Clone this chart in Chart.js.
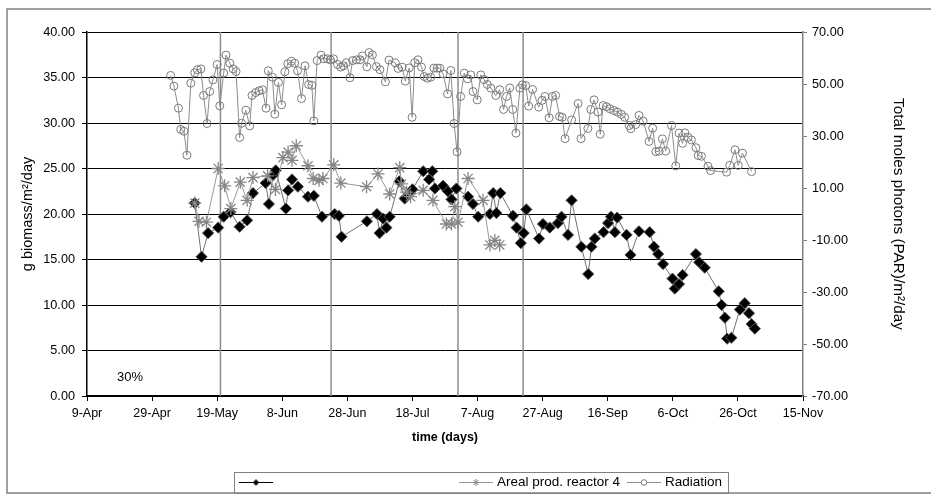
<!DOCTYPE html>
<html>
<head>
<meta charset="utf-8">
<script src="https://cdn.jsdelivr.net/npm/chart.js"></script>
<style>
  html, body { margin: 0; padding: 0; background: #fff; }
  #chart { display: block; }
</style>
</head>
<body>
<canvas id="chart" width="931" height="496"></canvas>
<script>
// x values are days counted from 9-Apr
const tickLabels = ['9-Apr', '29-Apr', '19-May', '8-Jun', '28-Jun', '18-Jul', '7-Aug', '27-Aug', '16-Sep', '6-Oct', '26-Oct', '15-Nov'];
const markerDays = [41, 75, 114, 134];

// black diamonds (legend label is empty in the original)
const blackDays = [33.1, 35.2, 37.2, 40.3, 42.0, 44.1, 46.9, 49.2, 51.0, 54.9, 55.9, 57.2, 58.0, 61.1, 61.8, 63.0, 64.8, 67.9, 69.7, 72.2,
  76.1, 77.4, 78.2, 86.0, 89.1, 89.9, 91.0, 92.0, 93.0, 96.0, 97.6, 99.2, 100.0, 103.3, 105.1, 106.1, 106.9, 109.4, 110.9, 112.0,
  113.5, 117.1, 118.6, 120.2, 123.8, 124.8, 125.8, 127.0, 130.9, 132.0, 133.3, 134.2, 135.0, 138.9, 140.1, 142.2, 144.7, 145.8, 147.8, 148.9,
  151.9, 154.0, 155.0, 156.0, 158.7, 160.1, 161.0, 162.2, 162.9, 165.8, 167.0, 169.6, 172.9, 174.2, 175.5, 177.0, 179.9, 180.6, 181.9, 183.0,
  187.1, 188.1, 189.8, 194.1, 195.0, 196.0, 196.7, 198.0, 200.6, 202.1, 203.4, 204.2, 205.2];
const blackValues = [21.2, 15.3, 17.9, 18.5, 19.7, 20.2, 18.6, 19.3, 22.3, 23.4, 21.1, 24.3, 24.8, 20.6, 22.6, 23.8, 23.0, 21.9, 22.0, 19.7,
  20.0, 19.8, 17.5, 19.2, 20.0, 17.9, 19.5, 18.5, 19.7, 23.6, 21.7, 22.3, 22.7, 24.7, 23.8, 24.7, 22.8, 23.1, 22.5, 21.6,
  22.8, 21.9, 21.1, 19.7, 20.0, 22.3, 20.1, 22.3, 19.8, 18.5, 16.8, 17.9, 20.5, 17.3, 18.9, 18.5, 19.0, 19.7, 17.7, 21.5,
  16.4, 13.4, 16.4, 17.3, 18.0, 19.0, 19.7, 18.0, 19.6, 17.7, 15.5, 18.1, 18.0, 16.4, 15.6, 14.5, 12.9, 11.8, 12.3, 13.3,
  15.6, 14.7, 14.1, 11.5, 10.0, 8.6, 6.3, 6.4, 9.5, 10.2, 9.1, 7.9, 7.4];

// Areal prod. reactor 4
const arealDays = [33.1, 34.4, 36.7, 40.3, 42.3, 44.2, 47.1, 49.2, 51.0, 55.5, 57.9, 60.2, 61.8, 63.0, 64.3, 67.9, 69.5, 71.3, 72.5, 75.8,
  78.0, 85.9, 89.4, 93.0, 96.1, 96.6, 98.2, 99.4, 103.3, 106.3, 110.4, 112.0, 113.0, 114.0, 117.1, 121.7, 123.8, 125.3, 126.8];
const arealValues = [21.2, 19.2, 19.1, 25.0, 23.1, 20.6, 23.5, 21.5, 24.0, 24.2, 22.7, 26.2, 26.8, 25.9, 27.5, 25.3, 23.9, 23.7, 23.9, 25.4,
  23.4, 23.0, 24.4, 22.2, 25.1, 23.3, 22.4, 21.9, 22.6, 21.5, 18.9, 18.9, 20.8, 19.1, 23.9, 21.5, 16.6, 17.1, 16.6];

// Radiation (right axis)
const radDays = [25.7, 26.7, 28.1, 28.8, 29.8, 30.7, 31.9, 33.1, 33.9, 35.0, 35.8, 36.9, 37.7, 38.7, 40.0, 40.8, 42.0, 42.7, 43.9, 44.9,
  45.8, 46.9, 47.5, 48.8, 50.0, 50.7, 51.8, 52.9, 53.9, 55.0, 55.7, 57.0, 57.7, 58.8, 59.8, 60.8, 61.7, 62.8, 63.8, 64.7,
  65.9, 67.0, 68.1, 69.1, 69.7, 70.7, 71.9, 72.8, 73.9, 74.8, 75.7, 77.0, 78.0, 78.8, 79.7, 80.8, 81.6, 82.8, 83.9, 84.6,
  86.0, 86.7, 87.7, 88.9, 90.0, 91.7, 92.8, 94.7, 95.6, 96.8, 97.8, 99.0, 99.9, 100.7, 101.7, 102.8, 103.6, 104.6, 105.6, 106.6,
  107.6, 108.4, 109.4, 110.8, 111.8, 112.8, 113.7, 114.8, 115.9, 116.9, 117.9, 118.6, 119.9, 121.0, 122.0, 123.0, 124.1, 125.6, 126.8, 128.0,
  128.9, 129.9, 130.8, 131.8, 133.0, 133.8, 134.8, 135.7, 136.9, 138.8, 139.8, 140.7, 142.0, 143.0, 144.0, 145.2, 146.0, 146.9, 148.9, 150.9,
  151.8, 153.9, 154.8, 155.8, 157.0, 157.7, 158.6, 159.6, 160.6, 161.9, 163.0, 164.2, 165.2, 166.6, 167.1, 168.6, 169.6, 170.9, 172.7, 173.8,
  174.8, 175.8, 176.8, 177.8, 179.6, 180.9, 181.9, 183.0, 183.7, 184.7, 185.7, 187.1, 187.8, 188.8, 190.8, 191.6, 196.5, 197.5, 199.1, 200.1,
  201.4, 204.2];
const radValues = [53.3, 49.2, 40.7, 32.5, 31.8, 22.6, 50.3, 54.3, 55.5, 55.8, 45.6, 34.8, 47.1, 51.6, 57.5, 41.6, 54.2, 61.1, 58.0, 55.8,
  54.8, 29.4, 34.9, 39.9, 33.9, 45.6, 46.7, 47.4, 47.8, 40.7, 55.1, 52.6, 38.4, 50.6, 42.0, 54.7, 57.8, 58.7, 58.0, 55.1,
  44.4, 57.0, 49.8, 49.5, 35.8, 59.0, 61.1, 59.7, 59.7, 59.3, 59.7, 57.5, 56.5, 57.0, 58.2, 52.4, 59.0, 59.3, 59.3, 60.8,
  56.6, 62.1, 61.2, 56.7, 55.5, 50.8, 59.2, 58.1, 56.0, 56.5, 51.1, 56.2, 37.2, 58.2, 59.3, 56.5, 52.9, 52.2, 52.6, 56.1,
  56.1, 56.1, 53.9, 46.2, 55.2, 34.8, 23.9, 45.2, 54.2, 52.0, 53.5, 47.1, 43.9, 53.5, 51.7, 49.8, 48.4, 45.6, 47.8, 40.2,
  45.2, 48.5, 40.2, 31.1, 48.4, 49.7, 49.4, 41.5, 47.9, 41.1, 43.7, 45.2, 37.0, 45.2, 45.6, 37.5, 37.2, 29.0, 36.2, 42.5,
  29.0, 32.9, 40.2, 43.9, 39.2, 30.7, 41.7, 41.3, 40.5, 39.8, 39.2, 38.3, 37.2, 34.0, 32.8, 34.4, 37.9, 35.7, 27.9, 33.0,
  24.0, 24.2, 28.9, 24.2, 34.0, 18.5, 31.1, 27.2, 31.2, 29.5, 28.5, 25.5, 22.5, 22.2, 18.4, 16.7, 16.1, 18.7, 24.7, 18.7,
  23.4, 16.3];

const FONT = "'Liberation Sans', Arial, sans-serif";
const toXY = (xs, ys) => xs.map((x, i) => ({ x: x, y: ys[i] }));

// outer frame, the "30%" note and the boxed legend
const decorPlugin = {
  id: 'decor',
  afterDraw(chart) {
    const ctx = chart.ctx;
    ctx.save();
    ctx.strokeStyle = '#808080';
    ctx.lineWidth = 1.5;
    ctx.strokeRect(7, 9, 940, 484);

    ctx.fillStyle = '#000';
    ctx.font = '13px ' + FONT;
    ctx.textAlign = 'left';
    ctx.textBaseline = 'middle';
    ctx.fillText('30%', 117, 377);

    // legend
    ctx.lineWidth = 1;
    ctx.strokeStyle = '#808080';
    ctx.strokeRect(234.5, 472.5, 494, 21);
    const ly = 482.5;
    const items = [
      { x0: 239, x1: 273 },
      { x0: 459, x1: 493 },
      { x0: 627, x1: 661 }
    ];
    const ds = chart.data.datasets;
    items.forEach((it, i) => {
      const d = ds[i];
      ctx.strokeStyle = i === 0 ? '#000' : d.borderColor;
      ctx.lineWidth = 1;
      ctx.beginPath();
      ctx.moveTo(it.x0, ly);
      ctx.lineTo(it.x1, ly);
      ctx.stroke();
      const cx = (it.x0 + it.x1) / 2;
      ctx.strokeStyle = d.pointBorderColor;
      ctx.fillStyle = d.pointBackgroundColor;
      ctx.beginPath();
      if (d.pointStyle === 'rectRot') {
        ctx.moveTo(cx - 3, ly); ctx.lineTo(cx, ly - 3); ctx.lineTo(cx + 3, ly); ctx.lineTo(cx, ly + 3);
        ctx.closePath(); ctx.fill(); ctx.stroke();
      } else if (d.pointStyle === 'star') {
        const r = 3.5;
        for (let k = 0; k < 4; k++) {
          const a = k * Math.PI / 4;
          ctx.moveTo(cx - Math.cos(a) * r, ly - Math.sin(a) * r);
          ctx.lineTo(cx + Math.cos(a) * r, ly + Math.sin(a) * r);
        }
        ctx.stroke();
      } else {
        ctx.fillStyle = '#fff';
        ctx.arc(cx, ly, 2.8, 0, Math.PI * 2);
        ctx.fill(); ctx.stroke();
      }
      if (d.label) {
        ctx.fillStyle = '#000';
        ctx.font = '13.5px ' + FONT;
        ctx.textAlign = 'left';
        ctx.fillText(d.label, it.x1 + 4, ly);
      }
    });
    ctx.restore();
  }
};

const datasets = [
  {
    label: '',
    data: toXY(blackDays, blackValues),
    yAxisID: 'y',
    borderColor: '#707070',
    borderWidth: 1,
    pointStyle: 'rectRot',
    pointRadius: 5.6,
    pointBackgroundColor: '#000',
    pointBorderColor: '#555',
    pointBorderWidth: 1,
    order: 2
  },
  {
    label: 'Areal prod. reactor 4',
    data: toXY(arealDays, arealValues),
    yAxisID: 'y',
    borderColor: '#999999',
    borderWidth: 1,
    pointStyle: 'star',
    pointRadius: 6.5,
    pointBackgroundColor: 'rgba(0,0,0,0)',
    pointBorderColor: '#868686',
    pointBorderWidth: 1.3,
    order: 1
  },
  {
    label: 'Radiation',
    data: toXY(radDays, radValues),
    yAxisID: 'y1',
    borderColor: '#8c8c8c',
    borderWidth: 1,
    pointStyle: 'circle',
    pointRadius: 4,
    pointBackgroundColor: 'rgba(0,0,0,0)',
    pointBorderColor: '#7a7a7a',
    pointBorderWidth: 1,
    order: 3
  }
];
markerDays.forEach(d => {
  datasets.push({
    label: 'marker',
    data: [{ x: d, y: 0 }, { x: d, y: 40 }],
    yAxisID: 'y',
    borderColor: '#8c8c8c',
    borderWidth: 1.5,
    pointRadius: 0,
    order: 5
  });
});

const ctx = document.getElementById('chart').getContext('2d');
new Chart(ctx, {
  type: 'line',
  data: { datasets: datasets },
  plugins: [decorPlugin],
  options: {
    responsive: false,
    animation: false,
    devicePixelRatio: 1,
    layout: { padding: { top: 32, left: 0, right: 0, bottom: 0 } },
    plugins: { legend: { display: false }, tooltip: { enabled: false } },
    elements: { line: { tension: 0 } },
    scales: {
      x: {
        type: 'linear',
        min: 0, max: 220,
        afterFit: s => { s.height = 100; },
        afterBuildTicks: s => { s.ticks = tickLabels.map((t, i) => ({ value: i * 20 })); },
        ticks: {
          autoSkip: false, maxRotation: 0, padding: 5,
          color: '#000', font: { family: FONT, size: 12.5 },
          callback: (v) => tickLabels[Math.round(v / 20)]
        },
        grid: { drawOnChartArea: false, drawTicks: true, tickLength: 5, color: '#000' },
        border: { color: '#000', width: 2 },
        title: {
          display: true, text: 'time (days)', color: '#000',
          font: { family: FONT, size: 12.5, weight: 'bold' },
          padding: { top: 0, bottom: 51 }
        }
      },
      y: {
        position: 'left',
        min: 0, max: 40,
        afterFit: s => { s.width = 87; },
        ticks: {
          stepSize: 5, padding: 7, color: '#000',
          font: { family: FONT, size: 12.7 },
          callback: v => v.toFixed(2)
        },
        grid: { color: '#000', lineWidth: 1, tickLength: 5 },
        border: { color: '#000', width: 1.5 },
        title: {
          display: true, text: 'g biomass/m²/day', color: '#000',
          font: { family: FONT, size: 14.5 },
          padding: { top: 19, bottom: 0 }
        }
      },
      y1: {
        position: 'right',
        min: -70, max: 70,
        afterFit: s => { s.width = 128; },
        ticks: {
          stepSize: 20, padding: 5, color: '#000',
          font: { family: FONT, size: 12.7 },
          callback: v => v.toFixed(2)
        },
        grid: { drawOnChartArea: false, color: '#808080', tickLength: 4 },
        border: { color: '#808080', width: 1.5 },
        title: {
          display: true, text: 'Total moles photons (PAR)/m²/day', color: '#000',
          font: { family: FONT, size: 15.3 },
          padding: { top: 24, bottom: 0 }
        }
      }
    }
  }
});
</script>
</body>
</html>
